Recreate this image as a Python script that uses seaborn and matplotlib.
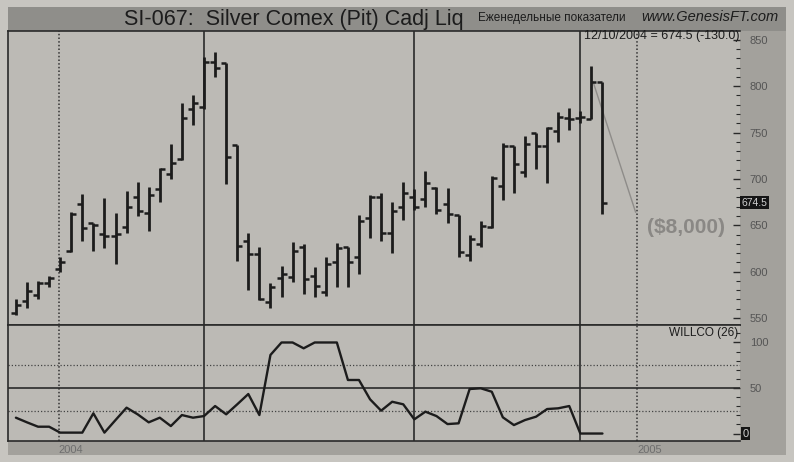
import numpy as np
import pandas as pd
import matplotlib
matplotlib.use("Agg")
import matplotlib.pyplot as plt
from matplotlib.lines import TICKLEFT, TICKRIGHT
from matplotlib.patches import Rectangle
from matplotlib.ticker import MultipleLocator
import seaborn as sns

sns.set_style("white")
plt.rcParams["font.family"] = ["Liberation Sans", "DejaVu Sans"]

# weekly OHLC, silver, last bar 12/10/2004
last_date = "2004-12-10"
opens = [555, 568, 575, 588, 603, 622, 673, 652, 641, 638, 648, 680, 663, 689,
         705, 721, 775, 778, 826, 825, 737, 633, 619, 567, 593, 594, 627, 595,
         578, 610, 627, 616, 658, 680, 642, 670, 680, 678, 690, 673, 661, 618,
         630, 648, 692, 735, 708, 749, 735, 752, 766, 766, 765, 804]
highs = [570, 589, 590, 595, 616, 664, 684, 653, 679, 663, 687, 697, 691, 712,
         738, 782, 790, 831, 837, 825, 737, 642, 627, 588, 606, 632, 630, 605,
         616, 631, 627, 661, 683, 685, 675, 697, 689, 709, 691, 690, 661, 640,
         655, 703, 739, 736, 746, 750, 756, 772, 776, 773, 822, 804]
lows = [553, 561, 571, 584, 600, 621, 633, 622, 626, 608, 642, 660, 644, 675,
        700, 720, 758, 775, 810, 694, 611, 580, 569, 561, 573, 589, 576, 573,
        574, 583, 583, 598, 636, 633, 620, 656, 667, 670, 662, 653, 616, 612,
        627, 647, 677, 685, 702, 711, 696, 740, 753, 760, 765, 662]
closes = [564, 579, 588, 593, 610, 662, 647, 650, 638, 641, 670, 665, 683, 711,
          717, 766, 782, 826, 820, 724, 628, 619, 571, 583, 598, 622, 592, 585,
          608, 625, 610, 655, 681, 642, 665, 685, 670, 696, 667, 662, 621, 635,
          649, 701, 736, 716, 738, 735, 755, 767, 765, 767, 804.5, 674.5]
# WILLCO (26)
willco = [17.4, 12.3, 7.5, 7.5, 1, 1, 1, 22.2, 1, 14.8, 28.4, 21.1, 12.3, 17.4,
          8.2, 20.3, 17.4, 19.2, 30.2, 21.1, 32.1, 43.4, 20.3, 86.3, 100, 100,
          93.6, 100, 100, 100, 58.8, 58.8, 37.6, 25.1, 34.9, 32.1, 15.6, 24,
          19.2, 10.4, 11.2, 48.9, 49.7, 45.9, 17.8, 9.3, 14.8, 18.5, 26.9, 27.7,
          30.2, 0, 0, 0]

year_lines = ["2004-01-01", "2005-01-01"]
year_labels = ["2004", "2005"]
cycle_lines = ["2004-04-02", "2004-08-13", "2004-11-26"]
trend_dates = ["2004-12-04", "2004-12-31"]
trend_prices = [805, 664]
price_ticks = [550, 600, 650, 700, 750, 800, 850]
willco_ticks = [0, 50, 100]
willco_dotted = [25, 75]

dates = pd.date_range(end=last_date, periods=len(closes), freq="7D")
years = pd.to_datetime(year_lines)
cycles = pd.to_datetime(cycle_lines)

PAGE = "#c7c5c0"
PLOT = "#bcbab5"
BAR = "#8f8e8a"
STRIP = "#a3a19c"
INK = "#1c1c1c"
W, H = 794, 462

fig = plt.figure(figsize=(W / 100, H / 100), dpi=100)
fig.patch.set_facecolor(PAGE)


def fx(px):
    return px / W


def fy(py):
    return 1 - py / H


# title bar, right scale strip, bottom date strip
fig.add_artist(Rectangle((fx(8), fy(31)), fx(778), 24 / H, transform=fig.transFigure,
                         facecolor=BAR, edgecolor="none", zorder=0))
fig.add_artist(Rectangle((fx(740), fy(455)), fx(46), 424 / H, transform=fig.transFigure,
                         facecolor=STRIP, edgecolor="none", zorder=0))
fig.add_artist(Rectangle((fx(8), fy(455)), fx(732), 15 / H, transform=fig.transFigure,
                         facecolor=STRIP, edgecolor="none", zorder=0))

ax = fig.add_axes([fx(8), fy(325), fx(732), 294 / H])
axw = fig.add_axes([fx(8), fy(441), fx(732), 116 / H], sharex=ax)
for a in (ax, axw):
    a.set_facecolor(PLOT)
    for s in a.spines.values():
        s.set_color("#2a2a2a")
        s.set_linewidth(1.2)
    a.spines["right"].set_visible(False)
    a.yaxis.tick_right()
    a.tick_params(axis="y", which="both", direction="in", right=True, left=False,
                  colors="#2a2a2a", labelcolor="#555555", labelsize=8, pad=7)
    a.tick_params(axis="y", which="major", length=5, width=1)
    a.tick_params(axis="y", which="minor", length=3, width=0.8)
    for d in years:
        a.axvline(d, color="#333333", lw=1.1, ls=(0, (1, 1.4)), zorder=1)
    for d in cycles:
        a.axvline(d, color="#2a2a2a", lw=1.2, zorder=1)

# price panel
ax.vlines(dates, lows, highs, color=INK, lw=2.0, zorder=3)
ax.plot(dates, opens, ls="none", marker=TICKLEFT, ms=3.5, mew=1.8, color=INK, zorder=3)
ax.plot(dates, closes, ls="none", marker=TICKRIGHT, ms=3.5, mew=1.8, color=INK, zorder=3)
ax.plot(pd.to_datetime(trend_dates), trend_prices, color="#8e8c89", lw=1.0, zorder=2)
ax.set_ylim(542.5, 859.5)
ax.set_yticks(price_ticks)
ax.yaxis.set_minor_locator(MultipleLocator(10))
ax.tick_params(axis="x", bottom=False, labelbottom=False)

ax.text(1.0, 1.0 - 5 / 294, f"12/10/2004 = {closes[-1]:.1f} ({closes[-1] - closes[-2]:.1f})",
        transform=ax.transAxes, ha="right", va="center", fontsize=9, color=INK)
ax.text(pd.Timestamp("2005-01-07"), 648, "($8,000)", ha="left", va="center",
        fontsize=15, fontweight="bold", color="#8a8885")
ax.text(1.002, closes[-1], f"{closes[-1]:.1f}", transform=ax.get_yaxis_transform(),
        ha="left", va="center", fontsize=7.5, color="#d0d0d0",
        bbox=dict(boxstyle="square,pad=0.15", facecolor="#151515", edgecolor="none"))

# WILLCO panel
sns.lineplot(x=dates, y=willco, ax=axw, color=INK, lw=1.7, zorder=3)
axw.axhline(50, color="#2a2a2a", lw=1.2, zorder=2)
for lvl in willco_dotted:
    axw.axhline(lvl, color="#444444", lw=0.9, ls=(0, (1, 1.6)), zorder=2)
axw.set_ylim(-8.2, 119.2)
axw.set_yticks(willco_ticks)
axw.set_yticklabels([""] + [str(v) for v in willco_ticks[1:]])
axw.yaxis.set_minor_locator(MultipleLocator(10))
axw.set_ylabel("")
axw.set_xlabel("")
axw.text(1.003, willco[-1], f"{willco[-1]:.0f}", transform=axw.get_yaxis_transform(),
         ha="left", va="center", fontsize=8, color="#d0d0d0",
         bbox=dict(boxstyle="square,pad=0.15", facecolor="#151515", edgecolor="none"))
axw.text(0.997, 0.93, "WILLCO (26)", transform=axw.transAxes, ha="right", va="center",
         fontsize=8.5, color=INK)

axw.set_xlim(pd.Timestamp("2003-11-30"), pd.Timestamp("2005-03-07"))
axw.set_xticks(years)
axw.set_xticklabels(year_labels)
axw.tick_params(axis="x", length=0, pad=3, labelsize=8, labelcolor="#6e6e6e")
for t in axw.get_xticklabels():
    t.set_ha("left")

# header
fig.text(fx(124), fy(19), "SI-067:  Silver Comex (Pit) Cadj Liq", ha="left", va="center",
         fontsize=15.5, color=INK)
fig.text(fx(478), fy(18), "Еженедельные показатели", ha="left", va="center",
         fontsize=8.5, color=INK)
fig.text(fx(778), fy(17), "www.GenesisFT.com", ha="right", va="center",
         fontsize=10.5, style="italic", color=INK)

plt.savefig("out.png", dpi=100, facecolor=fig.get_facecolor())
plt.close()
